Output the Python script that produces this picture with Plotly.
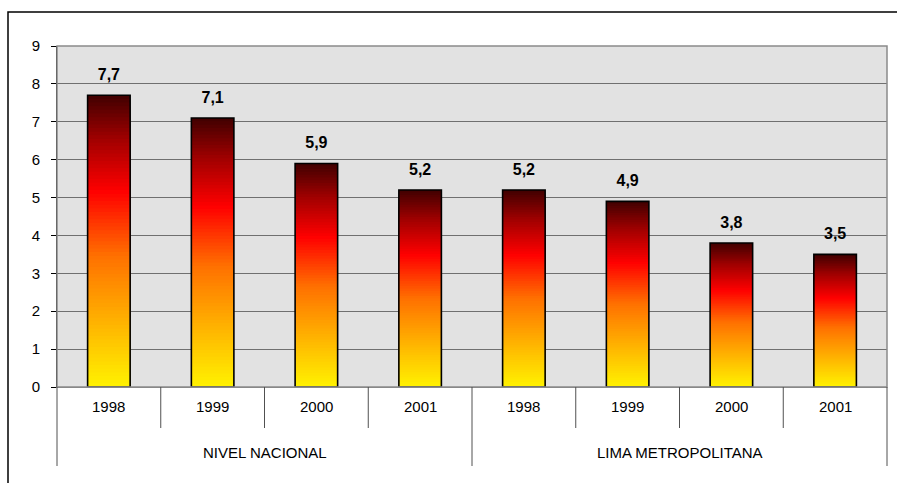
import plotly.graph_objects as go

groups = ["NIVEL NACIONAL"] * 4 + ["LIMA METROPOLITANA"] * 4
group_names = ["NIVEL NACIONAL", "LIMA METROPOLITANA"]
years = ["1998", "1999", "2000", "2001"] * 2
values = [7.7, 7.1, 5.9, 5.2, 5.2, 4.9, 3.8, 3.5]
labels = [f"{v:.1f}".replace(".", ",") for v in values]

stops = [(0.0, (255, 242, 0)), (0.12, (255, 208, 0)), (0.30, (255, 156, 0)),
         (0.45, (255, 112, 0)), (0.67, (255, 0, 0)), (0.85, (160, 0, 0)),
         (1.0, (64, 0, 0))]


def color_at(t):
    for (a, ca), (b, cb) in zip(stops[:-1], stops[1:]):
        if a <= t <= b:
            f = (t - a) / (b - a)
            c = [round(ca[i] + (cb[i] - ca[i]) * f) for i in range(3)]
            return f"rgb({c[0]},{c[1]},{c[2]})"
    return "rgb(64,0,0)"


N = 80
BW = 0.41
fig = go.Figure()
x = [groups, years]
for k in range(N):
    frac = (N - k) / N
    fig.add_trace(go.Bar(
        x=x, y=[v * frac for v in values], width=BW,
        marker=dict(color=color_at((N - k - 0.5) / N), line=dict(width=0)),
        hoverinfo="skip", showlegend=False))

# outline
fig.add_trace(go.Bar(
    x=x, y=values, width=BW,
    marker=dict(color="rgba(0,0,0,0)", line=dict(color="black", width=1.6)),
    showlegend=False))

# value labels
fig.add_trace(go.Scatter(
    x=x, y=values, mode="markers+text", text=labels,
    textposition="top center",
    marker=dict(size=16, color="rgba(0,0,0,0)"),
    textfont=dict(family="Liberation Sans, Arial", size=16, color="black", weight="bold"),
    showlegend=False, hoverinfo="skip"))

# category axis drawn by hand (paper coordinates)
PH = 341.0  # plot height in px


def py(px_below):  # px below the x axis -> paper y
    return -px_below / PH


n = len(years)
shapes = [
    dict(type="rect", xref="paper", yref="paper", x0=0, x1=1, y0=0, y1=1,
         line=dict(color="#8a8a8a", width=1.5), fillcolor="rgba(0,0,0,0)", layer="above"),
    dict(type="rect", xref="paper", yref="paper",
         x0=(8 - 57) / 830, x1=1.03, y0=-0.5, y1=1 + (46 - 12) / PH,
         line=dict(color="black", width=1.5), fillcolor="rgba(0,0,0,0)"),
]
annotations = []
for i in range(n + 1):
    is_group = i % 4 == 0
    shapes.append(dict(type="line", xref="paper", yref="paper",
                       x0=i / n, x1=i / n, y0=0, y1=py(79 if is_group else 41),
                       line=dict(color="#505050", width=1)))
for i, yr in enumerate(years):
    annotations.append(dict(xref="paper", yref="paper", x=(i + 0.5) / n, y=py(19),
                            text=yr, showarrow=False, xanchor="center", yanchor="middle",
                            font=dict(size=15)))
for g, name in enumerate(group_names):
    annotations.append(dict(xref="paper", yref="paper", x=(g + 0.5) / 2, y=py(65),
                            text=name, showarrow=False, xanchor="center", yanchor="middle",
                            font=dict(size=15)))

fig.update_layout(
    width=897, height=483,
    margin=dict(l=57, r=10, t=46, b=96),
    paper_bgcolor="white", plot_bgcolor="#E2E2E2",
    barmode="overlay", showlegend=False,
    font=dict(family="Liberation Sans, Arial", size=15, color="black"),
    xaxis=dict(type="multicategory", showgrid=False, showline=True,
               linecolor="#808080", linewidth=1, showticklabels=False,
               ticks="", showdividers=False),
    yaxis=dict(range=[0, 9], dtick=1, tick0=0, showgrid=True,
               gridcolor="#707070", gridwidth=1, zeroline=False,
               showline=True, linecolor="black", linewidth=1,
               ticks="outside", ticklen=5, tickcolor="black",
               ticklabelstandoff=8, tickfont=dict(size=15)),
    shapes=shapes,
    annotations=annotations,
)

fig.write_html("out.html")
